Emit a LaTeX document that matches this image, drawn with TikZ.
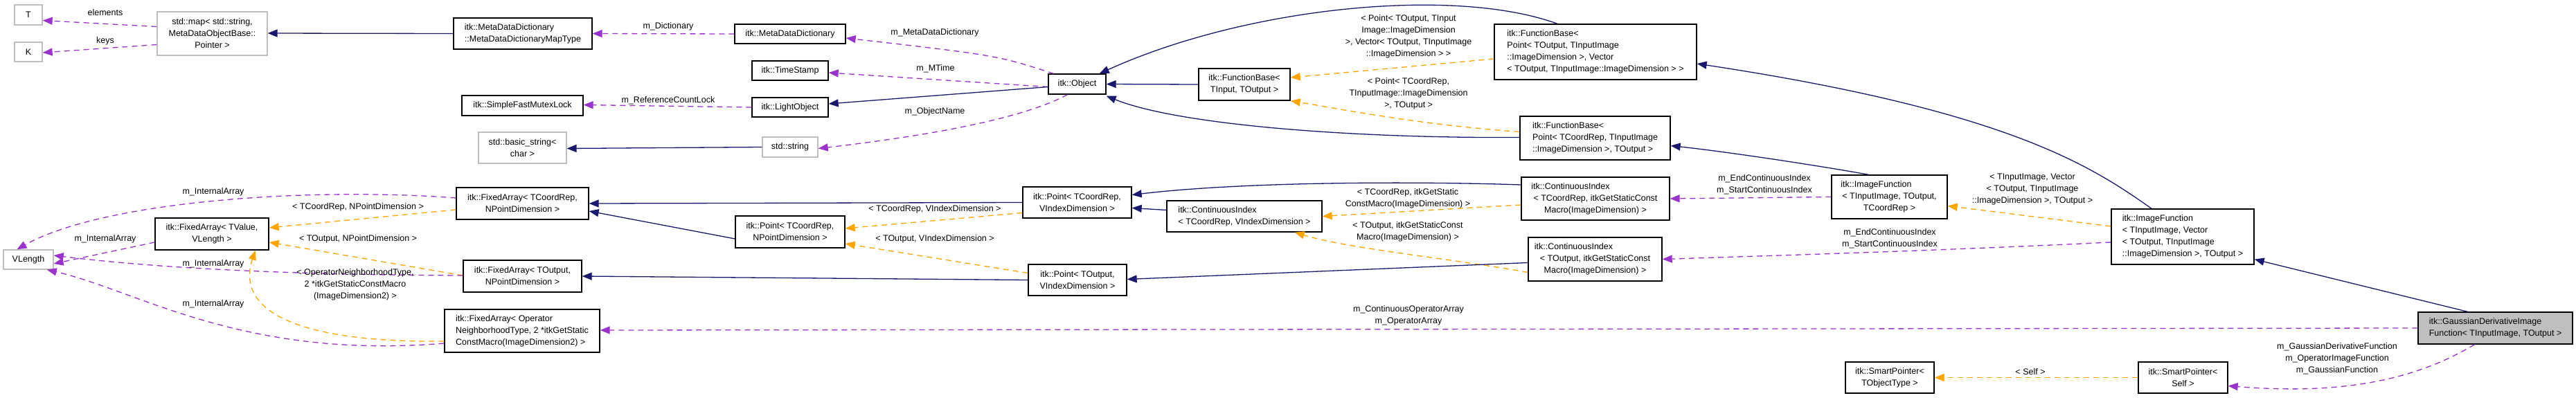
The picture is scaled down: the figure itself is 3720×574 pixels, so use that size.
\documentclass[tikz,border=0pt]{standalone}
\usepackage{fontspec}
\setmainfont{Liberation Sans}
\usetikzlibrary{arrows.meta}
\definecolor{pur}{HTML}{9A32CD}
\definecolor{org}{HTML}{FFA500}
\definecolor{blu}{HTML}{191970}
\definecolor{gbd}{HTML}{BFBFBF}
\newcommand\mybox[7][nd]{\node[#1,minimum width={(#4-#3)*1pt},minimum height={(#6-#5)*1pt}] (#2) at ({(#3+#4)/2},{(#5+#6)/2}) {#7};}
\tikzset{
 nd/.style={draw=black,line width=1.3pt,inner sep=0pt,font=\fontsize{12.5}{17}\selectfont,align=center},
 ndl/.style={nd,align=left},
 ug/.style={nd,draw=gbd},
 lb/.style={inner sep=0pt,font=\fontsize{12.5}{17}\selectfont,align=center},
 pe/.style={draw=pur,line width=1.3pt,dash pattern=on 8pt off 6pt,-{Triangle[length=14pt,width=11pt]}},
 oe/.style={draw=org,line width=1.3pt,dash pattern=on 8pt off 6pt,-{Triangle[length=14pt,width=11pt]}},
 be/.style={draw=blu,line width=1.3pt,-{Triangle[length=14pt,width=11pt]}},
}
\begin{document}
\begin{tikzpicture}[x=1pt,y=-1pt]
\useasboundingbox[fill=white] (0,0) rectangle (3720,574);
\mybox[ug]{T}{21}{61}{7}{36}{T}
\mybox[ug]{K}{21}{61}{61}{89}{K}
\mybox[ug]{map}{227}{386}{17}{80}{std::map< std::string,\\MetaDataObjectBase::\\Pointer >}
\mybox[ug]{VL}{5}{77}{361}{389}{VLength}
\mybox{FAV}{224}{388}{315}{361}{itk::FixedArray< TValue,\\VLength >}
\mybox[ndl]{MDDMT}{655}{855}{26}{71}{itk::MetaDataDictionary\\::MetaDataDictionaryMapType}
\mybox{MDD}{1061}{1221}{35}{63}{itk::MetaDataDictionary}
\mybox{TS}{1086}{1196}{88}{116}{itk::TimeStamp}
\mybox{SFML}{667}{842}{138}{167}{itk::SimpleFastMutexLock}
\mybox{LO}{1086}{1196}{141}{169}{itk::LightObject}
\mybox[ug]{BS}{691}{818}{191}{236}{std::basic\_string<\\char >}
\mybox[ug]{SS}{1101}{1181}{198}{227}{std::string}
\mybox{FACN}{659}{850}{271}{317}{itk::FixedArray< TCoordRep,\\NPointDimension >}
\mybox{PCN}{1062}{1220}{312}{358}{itk::Point< TCoordRep,\\NPointDimension >}
\mybox{FAON}{669}{840}{376}{422}{itk::FixedArray< TOutput,\\NPointDimension >}
\mybox[ndl]{FAOP}{642}{866}{447}{509}{itk::FixedArray< Operator\\NeighborhoodType, 2 *itkGetStatic\\ ConstMacro(ImageDimension2) >}
\mybox{OBJ}{1514}{1597}{107}{136}{itk::Object}
\mybox{FBT}{1731}{1863}{99}{145}{itk::FunctionBase<\\TInput, TOutput >}
\mybox{PCV}{1477}{1634}{270}{315}{itk::Point< TCoordRep,\\VIndexDimension >}
\mybox[ndl]{CICV}{1685}{1909}{290}{335}{itk::ContinuousIndex\\< TCoordRep, VIndexDimension >}
\mybox{POV}{1485}{1627}{382}{427}{itk::Point< TOutput,\\VIndexDimension >}
\mybox[ndl]{FBPO}{2158}{2450}{35}{115}{itk::FunctionBase<\\ Point< TOutput, TInputImage\\::ImageDimension >, Vector\\< TOutput, TInputImage::ImageDimension > >}
\mybox[ndl]{FBPC}{2195}{2412}{168}{231}{itk::FunctionBase<\\ Point< TCoordRep, TInputImage\\ ::ImageDimension >, TOutput >}
\mybox{CICI}{2197}{2411}{256}{318}{\hspace*{-72pt}itk::ContinuousIndex\\< TCoordRep, itkGetStaticConst\\Macro(ImageDimension) >}
\mybox{IF3}{2645}{2812}{253}{316}{\hspace*{-38pt}itk::ImageFunction\\< TInputImage, TOutput,\\TCoordRep >}
\mybox{CIOI}{2207}{2400}{343}{406}{\hspace*{-62pt}itk::ContinuousIndex\\< TOutput, itkGetStaticConst\\Macro(ImageDimension) >}
\mybox{SPT}{2665}{2793}{523}{568}{itk::SmartPointer<\\TObjectType >}
\mybox[ndl]{IFV}{3049}{3255}{302}{382}{itk::ImageFunction\\< TInputImage, Vector\\< TOutput, TInputImage\\::ImageDimension >, TOutput >}
\mybox[ndl,fill=gbd]{GD}{3492}{3715}{451}{497}{itk::GaussianDerivativeImage\\Function< TInputImage, TOutput >}
\mybox{SPS}{3088}{3217}{523}{568}{itk::SmartPointer<\\Self >}
% edges
\draw[pe] ([yshift=10pt]map.west) -- ([yshift=-8pt]T.east);
\draw[pe] ([yshift=-16pt]map.west) -- ([yshift=-1pt]K.east);
\draw[be] ([yshift=0pt]MDDMT.west) -- ([yshift=0.5pt]map.east);
\draw[pe] (MDD.west) -- (MDDMT.east);
\draw[pe] ([xshift=8pt]OBJ.north west) .. controls (1440,80) .. ([yshift=-6pt]MDD.east);
\draw[pe] ([yshift=-4pt]OBJ.west) -- ([yshift=-3pt]TS.east);
\draw[be] ([yshift=-4pt]OBJ.west) -- ([yshift=5pt]LO.east);
\draw[pe] (LO.west) -- ([yshift=1pt]SFML.east);
\draw[be] ([yshift=0pt]SS.west) -- ([yshift=-1pt]BS.east);
\draw[pe] ([xshift=-14pt]OBJ.south) .. controls (1480,170) and (1350,195) .. ([yshift=-2pt]SS.east);
\draw[be] (FBT.west) -- (OBJ.east);
\draw[be] ([xshift=-55pt]FBPO.north) .. controls (2100,-20) and (1800,10) .. ([xshift=-10pt]OBJ.north east);
\draw[be] ([yshift=1pt]FBPC.west) .. controls (1950,200) and (1700,180) .. ([yshift=-2pt]OBJ.south east);
\draw[oe] ([yshift=-10pt]FBPO.west) -- ([yshift=10pt]FBT.east);
\draw[oe] ([yshift=9pt]FBPC.west) .. controls (2050,180) and (1950,160) .. (FBT.south east);
\draw[be] ([xshift=-45pt]IFV.north) .. controls (3020,240) and (2900,160) .. ([yshift=-17pt]FBPO.east);
\draw[be] ([xshift=-30pt]IF3.north) .. controls (2630,240) and (2500,220) .. ([yshift=-11pt]FBPC.east);
\draw[oe] ([yshift=15pt]IFV.west) -- ([yshift=-13pt]IF3.east);
\draw[pe] ([yshift=0pt]IF3.west) -- ([yshift=0pt]CICI.east);
\draw[pe] ([yshift=-8pt]IFV.west) .. controls (2800,362) and (2600,368) .. (CIOI.east);
\draw[be] ([xshift=-40pt]GD.north) -- ([yshift=8pt]IFV.south east);
\draw[pe] ([yshift=0pt]GD.west) -- ([yshift=1pt]FAOP.east);
\draw[pe] ([xshift=-30pt]GD.south) .. controls (3470,560) and (3350,568) .. ([yshift=-12pt]SPS.east);
\draw[oe] (SPS.west) -- (SPT.east);
\draw[oe] ([yshift=-9pt]CICI.west) -- ([yshift=0pt]CICV.east);
\draw[oe] ([yshift=-19pt]CIOI.west) .. controls (2100,374) and (1950,360) .. ([xshift=-40pt]CICV.south east);
\draw[be] ([yshift=20pt]CICI.west) .. controls (2050,262) and (1800,262) .. ([yshift=11pt]PCV.east);
\draw[be] ([yshift=-5pt]CIOI.west) -- ([yshift=1pt]POV.east);
\draw[be] ([yshift=9pt]CICV.west) -- ([yshift=-8pt]PCV.east);
\draw[be] ([yshift=0pt]PCV.west) -- ([yshift=0pt]FACN.east);
\draw[be] ([yshift=0pt]POV.west) -- ([yshift=0pt]FAON.east);
\draw[oe] ([yshift=-15pt]PCV.west) -- ([yshift=5pt]PCN.east);
\draw[oe] ([yshift=10pt]POV.west) -- ([yshift=-17pt]PCN.east);
\draw[be] ([yshift=-10pt]PCN.west) -- ([yshift=-11pt]FACN.east);
\draw[oe] ([yshift=-9pt]FACN.west) -- ([yshift=9pt]FAV.east);
\draw[oe] ([yshift=1pt]FAON.west) -- ([yshift=-12pt]FAV.east);
\draw[oe] ([yshift=-15pt]FAOP.west) .. controls (430,495) and (340,450) .. ([xshift=-20pt]FAV.south east);
\draw[pe] ([yshift=8pt]FACN.west) .. controls (450,270) and (150,290) .. ([xshift=20pt]VL.north west);
\draw[pe] ([yshift=-12pt]FAV.west) -- ([yshift=-6pt]VL.east);
\draw[pe] ([yshift=1pt]FAON.west) .. controls (450,397) and (250,390) .. ([yshift=6pt]VL.east);
\draw[pe] ([yshift=-18pt]FAOP.west) .. controls (350,520) and (200,420) .. ([xshift=-10pt]VL.south east);
% labels
\node[lb] (l1) at (152,18) {elements};
\node[lb] (l2) at (152,59) {keys};
\node[lb] (l3) at (965,38) {m\_Dictionary};
\node[lb] (l4) at (1350,47) {m\_MetaDataDictionary};
\node[lb] (l5) at (1351,99) {m\_MTime};
\node[lb] (l6) at (965,145) {m\_ReferenceCountLock};
\node[lb] (l7) at (1350,161) {m\_ObjectName};
\node[lb] (l8) at (308,277) {m\_InternalArray};
\node[lb] (l9) at (152,345) {m\_InternalArray};
\node[lb] (l10) at (308,381) {m\_InternalArray};
\node[lb] (l11) at (308,439) {m\_InternalArray};
\node[lb] (l12) at (517,299) {< TCoordRep, NPointDimension >};
\node[lb] (l13) at (517,345) {< TOutput, NPointDimension >};
\node[lb] (l14) at (513,411) {< OperatorNeighborhoodType,\\2 *itkGetStaticConstMacro\\(ImageDimension2) >};
\node[lb] (l15) at (1350,302) {< TCoordRep, VIndexDimension >};
\node[lb] (l16) at (1350,345) {< TOutput, VIndexDimension >};
\node[lb] (l17) at (2034,53) {< Point< TOutput, TInput\\Image::ImageDimension\\ >, Vector< TOutput, TInputImage\\::ImageDimension > >};
\node[lb] (l18) at (2034,135) {< Point< TCoordRep,\\TInputImage::ImageDimension\\>, TOutput >};
\node[lb] (l19) at (2033,287) {< TCoordRep, itkGetStatic\\ConstMacro(ImageDimension) >};
\node[lb] (l20) at (2033,335) {< TOutput, itkGetStaticConst\\Macro(ImageDimension) >};
\node[lb] (l21) at (2034,456) {m\_ContinuousOperatorArray\\m\_OperatorArray};
\node[lb] (l22) at (2548,267) {m\_EndContinuousIndex\\m\_StartContinuousIndex};
\node[lb] (l23) at (2729,345) {m\_EndContinuousIndex\\m\_StartContinuousIndex};
\node[lb] (l24) at (2935,273) {< TInputImage, Vector\\< TOutput, TInputImage\\::ImageDimension >, TOutput >};
\node[lb] (l25) at (2932,537) {< Self >};
\node[lb] (l26) at (3375,518) {m\_GaussianDerivativeFunction\\m\_OperatorImageFunction\\m\_GaussianFunction};
\end{tikzpicture}
\end{document}
